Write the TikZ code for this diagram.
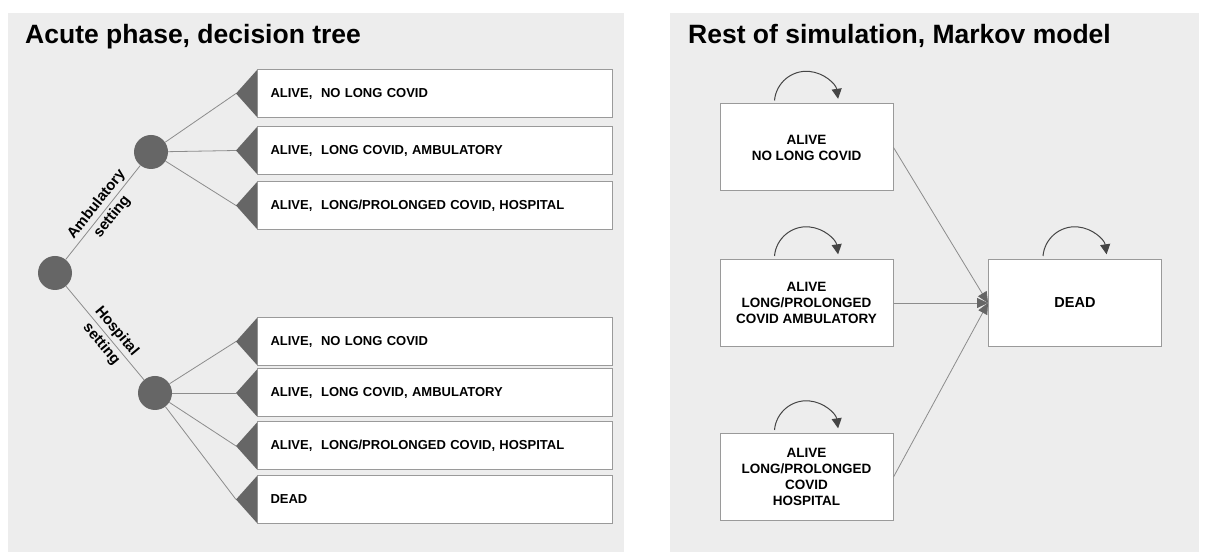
\documentclass[tikz,border=0pt]{standalone}
\usepackage{fontspec}
\setmainfont{Liberation Sans}
\usetikzlibrary{arrows.meta}
\definecolor{panelgray}{HTML}{EDEDED}
\definecolor{nodegray}{HTML}{666666}
\definecolor{linegray}{HTML}{8C8C8C}
\definecolor{framegray}{HTML}{9A9A9A}
\definecolor{loopgray}{HTML}{454545}

\tikzset{
    paneltitle/.style={font=\fontsize{26.5}{32}\selectfont\bfseries, inner sep=0pt, anchor=base west},
    chance/.style={circle, fill=nodegray, minimum size=34pt, inner sep=0pt},
    outcome/.style={draw=framegray, line width=1pt, fill=white, minimum height=48pt,
        text width=329pt, inner xsep=13pt, align=left, anchor=west,
        font=\fontsize{13}{16}\selectfont\bfseries},
    branch/.style={draw=linegray, line width=0.8pt},
    edgelabel/.style={font=\fontsize{15}{18}\selectfont\bfseries, inner sep=2.5pt, sloped},
    markovbox/.style={draw=framegray, line width=1pt, fill=white, minimum width=173pt,
        minimum height=87pt, align=center, font=\fontsize{13.5}{16}\selectfont\bfseries},
    selfloop/.style={draw=loopgray, line width=1pt, -{Triangle[length=10pt, width=10pt]}},
    transition/.style={draw=linegray, line width=0.8pt, -{Triangle[length=11pt, width=10pt, color=nodegray]}}
}

\begin{document}
\begin{tikzpicture}[x=1pt, y=1pt]
    \useasboundingbox[fill=white] (0,0) rectangle (1205,556);

    % Panels
    \fill[panelgray] (8,4) rectangle (624,543);
    \fill[panelgray] (670,4) rectangle (1199,543);
    \node[paneltitle] (treetitle) at (25,512) {Acute phase, decision tree};
    \node[paneltitle] (markovtitle) at (688,512) {Rest of simulation, Markov model};

    % Decision tree
    \node[chance] (root) at (55,283) {};
    \node[chance] (amb) at (151,404) {};
    \node[chance] (hosp) at (155,163) {};
    \draw[branch] (root) -- node[edgelabel, above, pos=0.52] {Ambulatory}
        node[edgelabel, below, pos=0.52] {setting} (amb);
    \draw[branch] (root) -- node[edgelabel, above, pos=0.55] {Hospital}
        node[edgelabel, below, pos=0.55] {setting} (hosp);

    % Outcomes with their end markers
    \foreach \name/\parent/\y/\txt in {
        a1/amb/462.5/{ALIVE, \ NO LONG COVID},
        a2/amb/405.5/{ALIVE, \ LONG COVID, AMBULATORY},
        a3/amb/350.5/{ALIVE, \ LONG/PROLONGED COVID, HOSPITAL},
        h1/hosp/214.5/{ALIVE, \ NO LONG COVID},
        h2/hosp/163/{ALIVE, \ LONG COVID, AMBULATORY},
        h3/hosp/110/{ALIVE, \ LONG/PROLONGED COVID, HOSPITAL},
        h4/hosp/56.5/{DEAD}}
    {
        \node[outcome] (\name) at (257,\y) {\txt};
        \coordinate (\name tip) at ([xshift=-21pt]\name.west);
        \fill[nodegray] ([yshift=-1pt]\name.north west) -- (\name tip) -- ([yshift=1pt]\name.south west) -- cycle;
        \draw[branch] (\parent) -- (\name tip);
    }

    % Markov model
    \node[markovbox] (alive) at (806.5,408.5) {ALIVE\\NO LONG COVID};
    \node[markovbox] (amblc) at (806.5,253) {ALIVE\\LONG/PROLONGED\\COVID AMBULATORY};
    \node[markovbox] (hosplc) at (806.5,79) {ALIVE\\LONG/PROLONGED\\COVID\\HOSPITAL};
    \node[markovbox, font=\fontsize{14.5}{17}\selectfont\bfseries] (dead) at (1075,253) {DEAD};

    \foreach \s in {alive, amblc, hosplc, dead}
        \draw[selfloop] ([xshift=-32pt, yshift=3pt]\s.north) arc[start angle=175, end angle=8, radius=32pt];
    \foreach \s in {alive, amblc, hosplc}
        \draw[transition] (\s.east) -- (dead.west);
\end{tikzpicture}
\end{document}
